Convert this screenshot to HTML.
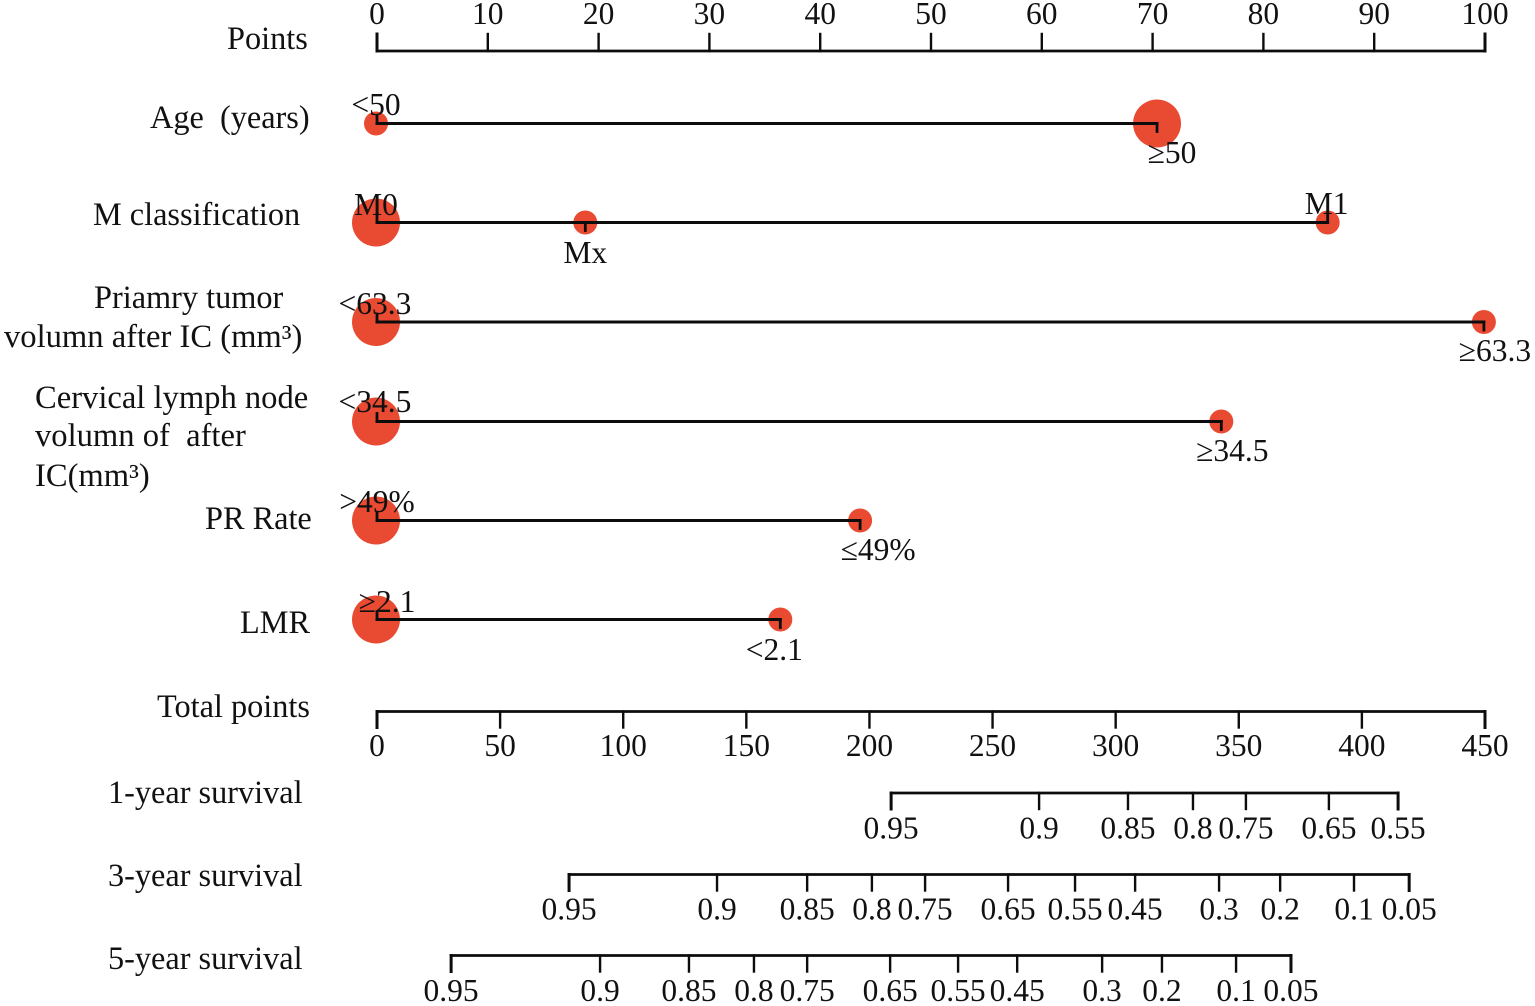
<!DOCTYPE html>
<html lang="en">
<head>
<meta charset="utf-8">
<title>Survival nomogram</title>
<style>
html,body{margin:0;padding:0;background:#fff;}
svg{display:block;}
text{font-family:"Liberation Serif","Times New Roman",serif;font-size:31.5px;fill:#111;}
#titles text{font-size:32.3px;}
#titles text.wide{font-size:32.6px;}
</style>
</head>
<body>
<svg id="chart" xmlns="http://www.w3.org/2000/svg" width="1535" height="1006" viewBox="0 0 1535 1006">
  <rect x="0" y="0" width="1535" height="1006" fill="#fff"/>
  <g id="titles">
    <text x="227" y="49">Points</text>
    <text x="150" y="128" xml:space="preserve">Age  (years)</text>
    <text x="93" y="225">M classification</text>
    <text x="94" y="308">Priamry tumor</text>
    <text class="wide" x="4" y="347">volumn after IC (mm³)</text>
    <text class="wide" x="35" y="408">Cervical lymph node</text>
    <text class="wide" x="35" y="446" xml:space="preserve">volumn of  after</text>
    <text class="wide" x="35" y="486">IC(mm³)</text>
    <text x="205" y="529">PR Rate</text>
    <text x="240" y="633">LMR</text>
    <text x="157" y="717">Total points</text>
    <text x="108" y="803">1-year survival</text>
    <text x="108" y="886">3-year survival</text>
    <text x="108" y="969">5-year survival</text>
  </g>
  <g id="marks"></g>
</svg>
<script>
// ---- Data ----
const pointsTicks = [0, 10, 20, 30, 40, 50, 60, 70, 80, 90, 100];
const totalTicks = [0, 50, 100, 150, 200, 250, 300, 350, 400, 450];

const ageLevels = ['<50', '≥50'];
const agePoints = [0, 70.4];
const ageShares = [0.25, 1];

const mLevels = ['M0', 'Mx', 'M1'];
const mPoints = [0, 18.8, 85.8];
const mShares = [1, 0.25, 0.25];

const tumorLevels = ['<63.3', '≥63.3'];
const tumorPoints = [0, 99.9];
const tumorShares = [1, 0.25];

const nodeLevels = ['<34.5', '≥34.5'];
const nodePoints = [0, 76.2];
const nodeShares = [1, 0.25];

const prLevels = ['>49%', '≤49%'];
const prPoints = [0, 43.6];
const prShares = [1, 0.25];

const lmrLevels = ['≥2.1', '<2.1'];
const lmrPoints = [0, 36.4];
const lmrShares = [1, 0.25];

const oneYearLabels = ['0.95', '0.9', '0.85', '0.8', '0.75', '0.65', '0.55'];
const oneYearTotals = [208.8, 268.9, 305, 331.4, 352.9, 386.6, 414.7];

const threeYearLabels = ['0.95', '0.9', '0.85', '0.8', '0.75', '0.65', '0.55', '0.45', '0.3', '0.2', '0.1', '0.05'];
const threeYearTotals = [78, 138.1, 174.7, 201, 222.6, 256.3, 283.5, 307.9, 342, 366.8, 396.8, 419.2];

const fiveYearLabels = ['0.95', '0.9', '0.85', '0.8', '0.75', '0.65', '0.55', '0.45', '0.3', '0.2', '0.1', '0.05'];
const fiveYearTotals = [30.1, 90.6, 126.7, 153.1, 174.7, 208.4, 236, 260, 294.5, 318.8, 348.9, 371.2];

// ---- Axis functions ----
const X0 = 377, X1 = 1485;
function xPoints(v) { return X0 + (X1 - X0) * v / 100; }
function xTotal(v) { return X0 + (X1 - X0) * v / 450; }
function radius(share) { return 24 * Math.sqrt(share); }

// ---- Drawing helpers ----
const NS = 'http://www.w3.org/2000/svg';
const marks = document.getElementById('marks');
const INK = '#0c0c0c';

function line(x1, y1, x2, y2, w, name) {
  const el = document.createElementNS(NS, 'line');
  el.setAttribute('x1', x1);
  el.setAttribute('y1', y1);
  el.setAttribute('x2', x2);
  el.setAttribute('y2', y2);
  el.setAttribute('stroke', INK);
  el.setAttribute('stroke-width', w);
  el.setAttribute('stroke-linecap', 'square');
  
  
  marks.appendChild(el);
}

function label(x, y, str, name) {
  const el = document.createElementNS(NS, 'text');
  el.setAttribute('x', x);
  el.setAttribute('y', y);
  el.setAttribute('text-anchor', 'middle');
  el.textContent = str;
  
  
  marks.appendChild(el);
}

function dot(x, y, r, name) {
  const el = document.createElementNS(NS, 'circle');
  el.setAttribute('cx', x);
  el.setAttribute('cy', y);
  el.setAttribute('r', r);
  el.setAttribute('fill', '#e94b32');
  
  
  marks.appendChild(el);
}

function axis(slug, scale, values, labels, y, tickLen, labelY) {
  const xs = values.map(scale);
  line(Math.min(...xs), y, Math.max(...xs), y, 2.8, slug + '-axis-line');
  values.forEach(function (v, i) {
    const edge = i === 0 || i === values.length - 1;
    line(xs[i], y, xs[i], y + tickLen, edge ? 3 : 2.4, slug + '-tick');
    label(xs[i], labelY, labels[i], slug + '-tick-label');
  });
}

// layout[i].dy < 0 puts the label (and its tick) above the line, otherwise below
function row(slug, y, levels, points, shares, layout) {
  points.forEach(function (p, i) {
    const nudge = p === 0 ? -1 : 0;
    dot(xPoints(p) + nudge, y, radius(shares[i]), slug + '-level-dot');
  });
  levels.forEach(function (lv, i) {
    const x = xPoints(points[i]);
    const dir = layout[i].dy < 0 ? -1 : 1;
    line(x, y, x, y + dir * 8, 2.8, slug + '-level-tick');
  });
  line(xPoints(Math.min(...points)), y, xPoints(Math.max(...points)), y, 3, slug + '-line');
  levels.forEach(function (lv, i) {
    const l = layout[i];
    label(xPoints(points[i]) + l.dx, y + l.dy, lv, slug + '-level-label');
  });
}

// ---- Scales along the top and bottom ----
axis('points', xPoints, pointsTicks, pointsTicks.map(String), 51, -17, 24);
axis('total-points', xTotal, totalTicks, totalTicks.map(String), 711.5, 16, 756);
axis('one-year-survival', xTotal, oneYearTotals, oneYearLabels, 793, 16, 838.5);
axis('three-year-survival', xTotal, threeYearTotals, threeYearLabels, 874.5, 16, 919.5);
axis('five-year-survival', xTotal, fiveYearTotals, fiveYearLabels, 955.5, 16, 1001);

// ---- Predictor rows ----
row('age', 123.5, ageLevels, agePoints, ageShares,
  [{dx: -1, dy: -8.5}, {dx: 15, dy: 39.5}]);
row('m-classification', 222.5, mLevels, mPoints, mShares,
  [{dx: -1, dy: -7.5}, {dx: 0, dy: 40.5}, {dx: -1, dy: -8.5}]);
row('primary-tumor', 322, tumorLevels, tumorPoints, tumorShares,
  [{dx: -2, dy: -8}, {dx: 11, dy: 39}]);
row('cervical-node', 421.5, nodeLevels, nodePoints, nodeShares,
  [{dx: -2, dy: -9.5}, {dx: 11, dy: 39.5}]);
row('pr-rate', 520.5, prLevels, prPoints, prShares,
  [{dx: 0, dy: -8.5}, {dx: 18, dy: 39.5}]);
row('lmr', 619.5, lmrLevels, lmrPoints, lmrShares,
  [{dx: 10, dy: -7.5}, {dx: -6, dy: 40.5}]);
</script>
</body>
</html>
